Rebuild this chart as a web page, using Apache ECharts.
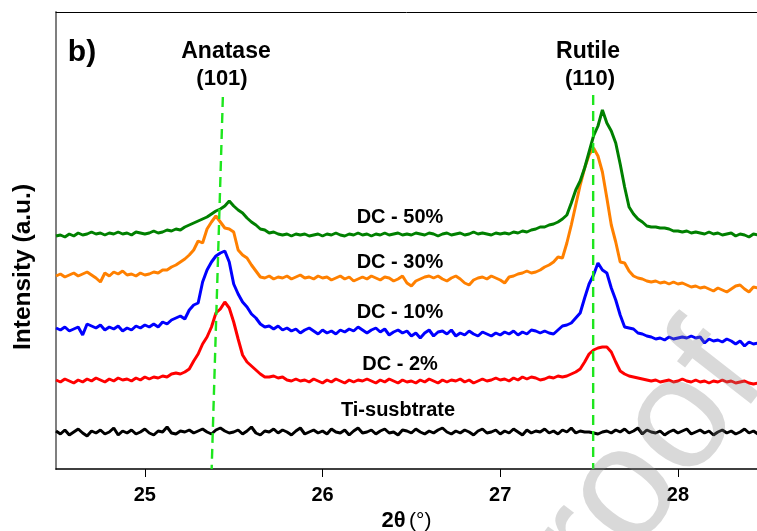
<!DOCTYPE html>
<html><head><meta charset="utf-8">
<script src="https://cdn.jsdelivr.net/npm/echarts@6/dist/echarts.min.js"></script>
<style>html,body{margin:0;padding:0;background:#fff}#chart{width:757px;height:531px}</style>
</head><body><div id="chart"></div>
<script>
// 2θ sampling of the scans (degrees)
const thetaStart = 24.5;
const thetaStep = 0.025;
const xTicks = [25, 26, 27, 28];

// Intensity (a.u.), stacked traces
const dc50 = [
233,234,232,235,233,236,234,235,237,235,
236,234,236,235,237,235,236,234,237,236,
235,236,238,236,237,239,238,240,239,242,
244,246,248,250,252,255,258,260,263,268,
263,259,256,251,247,244,240,239,236,237,
235,234,235,233,235,234,235,233,234,235,
233,235,234,236,234,233,235,234,236,234,
235,233,235,234,236,234,235,236,234,235,
234,236,235,234,236,235,233,235,236,234,
235,236,234,235,237,235,236,235,234,236,
235,236,235,237,236,238,237,239,240,242,
242,244,245,247,250,254,266,279,288,301,
317,333,343,359,346,338,326,305,282,262,
255,250,247,243,242,242,241,241,240,238,
238,237,238,236,237,236,235,237,235,236,
234,235,236,233,235,234,232,235,234];

const dc30 = [
193,195,192,194,196,193,195,197,194,191,
187,196,193,197,195,198,194,195,193,196,
194,195,197,196,199,199,202,204,207,210,
214,219,228,226,240,247,253,247,241,240,
237,219,214,211,204,198,192,191,193,190,
192,191,193,190,192,194,191,192,190,193,
191,192,189,191,193,190,192,188,190,192,
190,193,191,189,192,191,188,190,193,186,
183,188,190,192,193,191,193,190,188,191,
193,190,186,184,189,191,192,190,193,191,
189,186,192,193,195,196,198,196,197,199,
202,204,207,212,211,226,244,264,284,301,
314,321,313,297,271,244,227,207,206,198,
193,191,190,188,187,188,186,187,185,187,
185,186,184,182,183,181,182,180,178,181,
179,177,180,183,184,180,177,182,181];

const dc10 = [
141,139,142,138,140,142,134,145,143,141,
144,139,142,140,143,138,141,139,143,141,
144,142,145,142,147,145,149,151,153,150,
159,164,166,187,199,207,213,216,218,207,
185,175,167,162,155,151,145,142,143,140,
143,139,141,138,140,136,139,141,138,135,
139,136,138,135,139,137,140,138,142,139,
136,139,141,137,140,134,137,139,136,138,
133,136,131,136,139,133,137,138,135,139,
133,136,134,138,135,133,137,135,133,136,
134,137,135,138,134,137,135,139,138,136,
138,136,135,139,143,144,146,151,156,171,
185,194,206,199,196,181,169,154,142,141,
140,136,135,133,132,130,131,129,132,130,
131,132,131,133,131,132,126,130,128,129,
127,130,128,125,128,123,127,125,126];

const dc2 = [
89,87,90,88,86,89,87,90,88,91,
89,87,90,88,91,89,90,88,91,89,
92,90,92,91,93,92,95,96,95,97,
100,108,115,125,132,142,156,160,167,161,
147,130,114,107,103,99,95,92,92,93,
91,92,89,88,90,88,89,87,90,88,
86,89,87,90,88,86,89,87,89,88,
90,88,86,89,87,90,88,86,89,87,
88,86,89,87,90,88,86,89,87,89,
88,90,87,89,86,88,90,88,89,91,
89,90,88,91,89,92,90,92,91,89,
90,92,91,93,92,93,95,97,100,107,
115,119,121,122,122,117,107,98,95,93,
92,91,90,89,88,89,87,88,89,87,
88,90,88,87,89,87,88,86,88,87,
89,87,88,86,87,88,86,85,86];

const tiSubstrate = [
38,35,39,34,37,40,36,33,38,36,
39,35,37,41,34,38,36,39,35,37,
40,36,34,38,37,42,36,35,38,37,
39,36,38,40,37,35,39,41,38,36,
37,39,35,38,42,36,34,38,37,40,
36,39,37,34,38,41,35,37,39,36,
38,35,40,37,36,39,34,38,41,36,
37,39,35,38,40,36,37,34,39,38,
36,40,37,35,38,36,39,41,37,35,
38,36,39,37,34,38,40,36,37,39,
35,38,36,40,37,34,39,36,38,37,
40,36,38,35,39,37,41,36,38,37,
37,36,35,37,38,36,39,37,40,36,
38,41,35,39,37,36,38,34,37,39,
36,38,40,35,37,39,36,38,34,37,
39,36,38,35,37,40,36,38,35];

const seriesNames = ['Ti-susbtrate', 'DC - 2%', 'DC - 10%', 'DC - 30%', 'DC - 50%'];
const seriesColors = ['#000000', '#ff0000', '#0000ff', '#ff8000', '#008000'];
const seriesData = [tiSubstrate, dc2, dc10, dc30, dc50];

// Reference peak positions (dashed guide lines): [2θ, intensity]
const anataseRef = [[25.439, 372], [25.376, 0]];
const rutileRef = [[27.523, 374], [27.523, 0]];

function toPairs(arr) {
  return arr.map((v, i) => [+(thetaStart + thetaStep * i).toFixed(3), v]);
}

const FONT = '"Liberation Sans", Arial, Helvetica, sans-serif';
const chart = echarts.init(document.getElementById('chart'), null, {renderer: 'canvas'});

const series = seriesData.map((d, k) => ({
  name: seriesNames[k], type: 'line', data: toPairs(d), symbol: 'none',
  lineStyle: {color: seriesColors[k], width: 3}, z: 2 + k, animation: false
}));
[anataseRef, rutileRef].forEach(r => series.push({
  type: 'line', data: r, symbol: 'none', z: 10, animation: false,
  lineStyle: {color: '#1ee61e', width: 2.4, type: [10, 6]}
}));

const labelText = (txt, x, y, size) => ({
  type: 'text', x: x, y: y, z: 20,
  style: {text: txt, font: 'bold ' + size + 'px ' + FONT, fill: '#000', align: 'center', verticalAlign: 'middle'}
});

chart.setOption({
  animation: false,
  backgroundColor: '#fff',
  grid: {left: 56, right: 0, top: 12, bottom: 62, outerBoundsMode: 'none', containLabel: false},
  xAxis: [{
    type: 'value', min: 24.5, max: 28.445, position: 'bottom',
    axisLine: {lineStyle: {color: '#000', width: 1.5}},
    axisTick: {customValues: xTicks, length: 8, lineStyle: {color: '#000', width: 1}},
    axisLabel: {customValues: xTicks, margin: 16, color: '#000', fontFamily: FONT, fontWeight: 'bold', fontSize: 20},
    splitLine: {show: false},
    name: '{b|2θ} {r|(°)}', nameLocation: 'middle', nameGap: 41,
    nameTextStyle: {rich: {
      b: {fontFamily: FONT, fontWeight: 'bold', fontSize: 22, color: '#000'},
      r: {fontFamily: FONT, fontWeight: 'normal', fontSize: 21, color: '#000'}
    }}
  }, {
    type: 'value', min: 24.5, max: 28.445, position: 'top',
    axisLine: {show: true, lineStyle: {color: '#000', width: 1}},
    axisTick: {show: false}, axisLabel: {show: false}, splitLine: {show: false}
  }],
  yAxis: {
    type: 'value', min: 0, max: 457,
    axisLine: {show: true, lineStyle: {color: '#7f7f7f', width: 2}},
    axisTick: {show: false}, axisLabel: {show: false}, splitLine: {show: false}
  },
  series: series,
  graphic: [
    labelText('b)', 82, 53, 30),
    labelText('Anatase', 226, 52, 23),
    labelText('(101)', 222, 79, 22),
    labelText('Rutile', 588, 52, 23),
    labelText('(110)', 590, 79, 22),
    labelText('DC - 50%', 400, 217, 20),
    labelText('DC - 30%', 400, 262, 20),
    labelText('DC - 10%', 400, 312, 20),
    labelText('DC - 2%', 400, 364, 20),
    labelText('Ti-susbtrate', 398, 410, 20),
    {
      type: 'text', x: 23, y: 267, rotation: Math.PI / 2, z: 20,
      style: {text: 'Intensity (a.u.)', font: 'bold 24.5px ' + FONT, fill: '#000', align: 'center', verticalAlign: 'middle'}
    },
    {
      type: 'text', x: 798, y: 402, rotation: 52 * Math.PI / 180, z: 50,
      style: {text: 'Proof', font: 'normal 160px ' + FONT, fill: 'rgba(128,128,128,0.3)', align: 'right', verticalAlign: 'bottom'}
    }
  ]
});
</script></body></html>
